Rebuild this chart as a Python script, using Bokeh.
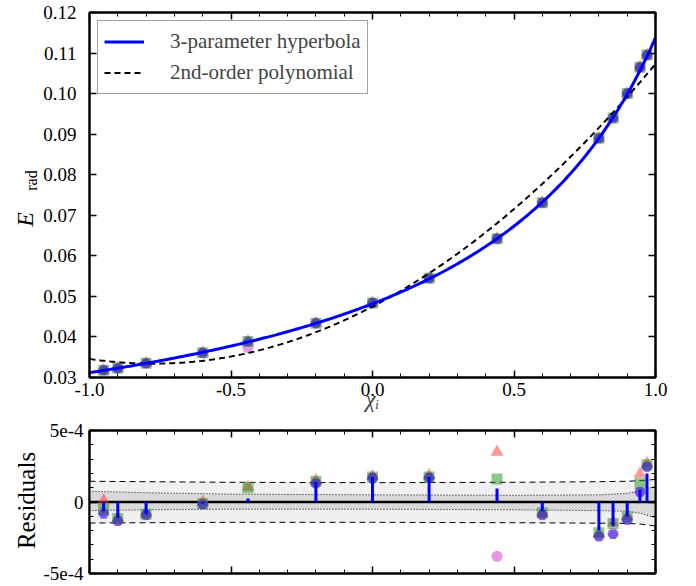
import numpy as np
from bokeh.plotting import figure
from bokeh.layouts import column, row
from bokeh.models import (Range1d, FixedTicker, LinearAxis, Legend, LegendItem,
                          NumeralTickFormatter, CustomLabelingPolicy)
from bokeh.core.properties import value
from bokeh.embed import file_html
from bokeh.resources import INLINE

# ---------------- data ----------------
x_pts = [-0.95, -0.90, -0.80, -0.60, -0.44, -0.20, 0.00, 0.20, 0.44, 0.60, 0.80, 0.85, 0.90, 0.945, 0.97]
E_pts = [0.0318, 0.0323, 0.0335, 0.0361, 0.0389, 0.0434, 0.0484, 0.0545, 0.0642, 0.0731, 0.0890, 0.0940, 0.1000, 0.1065, 0.1095]
E_circle = [0.0318, 0.0323, 0.0335, 0.0361, 0.0374, 0.0434, 0.0484, 0.0545, 0.0642, 0.0731, 0.0890, 0.0940, 0.1000, 0.1065, 0.1095]

# fit parameters: E = a + b / (c - x)
hyp_a, hyp_b, hyp_c = 0.0023, 0.0780, 1.6996
# 2nd-order polynomial: E = p0 + p1 x + p2 x^2
poly_p0, poly_p1, poly_p2 = 0.0475, 0.03635, 0.02345

# residuals (units of 1e-4)
res_square   = [-0.5, -1.15, -0.85, -0.10, 1.00, 1.45, 1.75, 1.75, 1.60, -0.75, -2.15, -1.50, -1.05, 1.30, 2.60]
res_triangle = [0.1, -1.10, -0.80, 0.00, 1.05, 1.50, 1.80, 1.85, 3.50, -0.80, -2.20, -1.45, -1.00, 1.95, 2.70]
res_circle   = [-0.7, -1.30, -0.90, -0.15, np.nan, 1.35, 1.70, 1.70, -3.80, -0.90, -2.40, -2.20, -1.20, 0.70, 2.50]
res_hex      = [-0.85, -1.35, -0.90, -0.15, np.nan, 1.30, 1.70, 1.70, np.nan, -0.90, -2.40, -2.25, -1.25, 0.70, 2.45]
res_stem     = [-0.65, -1.10, -0.85, -0.10, 0.25, 1.40, 1.75, 1.75, 0.95, -0.65, -2.00, -1.70, -1.00, 0.85, 2.00]

band_x       = [-1.0, -0.8, -0.5, 0.0, 0.5, 0.8, 0.9, 0.95, 1.0]
band_dash_hi = [1.45, 1.42, 1.38, 1.35, 1.38, 1.42, 1.45, 1.50, 1.58]
band_dash_lo = [-1.47, -1.45, -1.42, -1.42, -1.45, -1.48, -1.50, -1.55, -1.68]
band_dot_hi  = [0.75, 0.65, 0.55, 0.50, 0.47, 0.50, 0.60, 0.80, 1.10]
band_dot_lo  = [-0.60, -0.55, -0.50, -0.50, -0.55, -0.60, -0.65, -0.80, -1.10]

x_major = [-1.0, -0.5, 0.0, 0.5, 1.0]
x_minor = [round(-1.0 + 0.1 * i, 1) for i in range(21)]
E_ticks = [0.03, 0.04, 0.05, 0.06, 0.07, 0.08, 0.09, 0.10, 0.11, 0.12]
res_ticks = [-5, 0, 5]
res_minor = list(range(-5, 6))
res_tick_labels = {-5: "-5e-4", 0: "0", 5: "5e-4"}

FONT = "Liberation Serif"
C_SQ, C_TRI, C_CIR, C_HEX = "#209020", "#ff3434", "#cc33cc", "#1818e0"
MALPHA = 0.5

NO_LABELS = CustomLabelingPolicy(code="return new Set()")


def style_axis(ax, show_labels, fs="19px", standoff=8):
    ax.axis_line_width = 2
    ax.axis_line_color = "black"
    ax.major_tick_in = 7
    ax.major_tick_out = 0
    ax.minor_tick_in = 4
    ax.minor_tick_out = 0
    ax.major_tick_line_width = 1.5
    ax.minor_tick_line_width = 1
    ax.major_label_text_font = FONT
    ax.major_label_text_color = "black"
    ax.axis_label = None
    if show_labels:
        ax.major_label_text_font_size = fs
        ax.major_label_standoff = standoff
    else:
        ax.major_label_text_font_size = "1px"
        ax.major_label_standoff = 0
        ax.major_label_policy = NO_LABELS


def draw_markers(p, ys_sq, ys_tri, ys_cir, ys_hex):
    p.scatter(x_pts, ys_tri, marker="triangle", size=13, fill_color=C_TRI, fill_alpha=MALPHA, line_color=None)
    p.scatter(x_pts, ys_cir, marker="circle", size=11, fill_color=C_CIR, fill_alpha=MALPHA, line_color=None)
    p.scatter(x_pts, ys_sq, marker="square", size=11, fill_color=C_SQ, fill_alpha=MALPHA, line_color=None)
    p.scatter(x_pts, ys_hex, marker="hex", size=11, fill_color=C_HEX, fill_alpha=MALPHA, line_color=None)


# ---------------- left strip holding the vertical axis titles ----------------
STRIP_W = 40
TOTAL_H = 585
p0 = figure(width=STRIP_W, height=TOTAL_H, output_backend="svg", toolbar_location=None,
            x_range=Range1d(0, STRIP_W), y_range=Range1d(TOTAL_H, 0),
            min_border_left=0, min_border_right=0, min_border_top=0, min_border_bottom=0)
p0.axis.visible = False
p0.grid.visible = False
p0.outline_line_color = None
p0.text(x=[24], y=[219], text=["E"], text_font=value(FONT), text_font_size="24px",
        text_font_style="italic", text_align="center", text_baseline="middle",
        angle=np.pi / 2, text_color="black")
p0.text(x=[31], y=[180], text=["rad"], text_font=value(FONT), text_font_size="16px",
        text_align="center", text_baseline="middle", angle=np.pi / 2, text_color="black")
p0.text(x=[26], y=[500], text=["Residuals"], text_font=value(FONT), text_font_size="25px",
        text_align="center", text_baseline="middle", angle=np.pi / 2, text_color="black")

# ---------------- top panel ----------------
H1 = 420
p1 = figure(width=696 - STRIP_W, height=H1, output_backend="svg", toolbar_location=None,
            x_range=Range1d(-1, 1), y_range=Range1d(0.03, 0.12),
            min_border_left=88 - STRIP_W, min_border_right=41, min_border_top=12, min_border_bottom=43)
p1.grid.visible = False
p1.outline_line_color = "black"
p1.outline_line_width = 2

xt1 = FixedTicker(ticks=x_major, minor_ticks=x_minor)
yt1 = FixedTicker(ticks=E_ticks, minor_ticks=[])
p1.xaxis.ticker = xt1
p1.yaxis.ticker = yt1
style_axis(p1.xaxis[0], True, standoff=5)
style_axis(p1.yaxis[0], True, standoff=13)
p1.xaxis.formatter = NumeralTickFormatter(format="0.0")
p1.yaxis.formatter = NumeralTickFormatter(format="0.00")
p1.xaxis.axis_label = "\u03c7\u1d62"
p1.xaxis.axis_label_text_font = FONT
p1.xaxis.axis_label_text_font_style = "italic"
p1.xaxis.axis_label_text_font_size = "23px"
p1.xaxis.axis_label_standoff = -12
ax_top = LinearAxis(ticker=xt1)
ax_right = LinearAxis(ticker=yt1)
style_axis(ax_top, False)
style_axis(ax_right, False)
p1.add_layout(ax_top, "above")
p1.add_layout(ax_right, "right")

draw_markers(p1, E_pts, E_pts, E_circle, E_pts)

xc = np.linspace(-1, 1, 300)
hyp = hyp_a + hyp_b / (hyp_c - xc)
poly = poly_p0 + poly_p1 * xc + poly_p2 * xc ** 2
r_poly = p1.line(xc, poly, line_color="black", line_width=2, line_dash="6 4")
r_hyp = p1.line(xc, hyp, line_color="#0000ff", line_width=3)

legend = Legend(items=[LegendItem(label="3-parameter hyperbola", renderers=[r_hyp]),
                       LegendItem(label="2nd-order polynomial", renderers=[r_poly])],
                location="top_left")
legend.margin = 8
legend.padding = 6
legend.spacing = 2
legend.glyph_width = 40
legend.glyph_height = 29
legend.label_height = 29
legend.label_standoff = 26
legend.label_text_font = FONT
legend.label_text_font_size = "21px"
legend.border_line_color = "#444444"
legend.border_line_width = 1.2
legend.background_fill_alpha = 1.0
p1.add_layout(legend, "center")

# ---------------- bottom panel ----------------
p2 = figure(width=696 - STRIP_W, height=TOTAL_H - H1, output_backend="svg", toolbar_location=None,
            x_range=Range1d(-1, 1), y_range=Range1d(-5, 5),
            min_border_left=88 - STRIP_W, min_border_right=41, min_border_top=10, min_border_bottom=12)
p2.grid.visible = False
p2.outline_line_color = "black"
p2.outline_line_width = 2

xt2 = FixedTicker(ticks=x_major, minor_ticks=x_minor)
yt2 = FixedTicker(ticks=res_ticks, minor_ticks=res_minor)
p2.xaxis.ticker = xt2
p2.yaxis.ticker = yt2
style_axis(p2.xaxis[0], False)
style_axis(p2.yaxis[0], True, standoff=6)
p2.yaxis.major_label_overrides = res_tick_labels
ax_top2 = LinearAxis(ticker=xt2)
ax_right2 = LinearAxis(ticker=yt2)
style_axis(ax_top2, False)
style_axis(ax_right2, False)
p2.add_layout(ax_top2, "above")
p2.add_layout(ax_right2, "right")

p2.varea(x=band_x, y1=band_dash_lo, y2=band_dash_hi, fill_color="#f0f0f0")
p2.varea(x=band_x, y1=band_dot_lo, y2=band_dot_hi, fill_color="#d9d9d9")
p2.line(band_x, band_dash_hi, line_color="black", line_width=1, line_dash="6 4")
p2.line(band_x, band_dash_lo, line_color="black", line_width=1, line_dash="6 4")
p2.line(band_x, band_dot_hi, line_color="black", line_width=1, line_dash="1 2")
p2.line(band_x, band_dot_lo, line_color="black", line_width=1, line_dash="1 2")
p2.line([-1, 1], [0, 0], line_color="black", line_width=2.5)

draw_markers(p2, res_square, res_triangle, res_circle, res_hex)
p2.segment(x0=x_pts, y0=[0] * len(x_pts), x1=x_pts, y1=res_stem, line_color="#0000ff", line_width=3)

layout = row(p0, column(p1, p2, spacing=0), spacing=0)
open("out.html", "w").write(file_html(layout, INLINE))
